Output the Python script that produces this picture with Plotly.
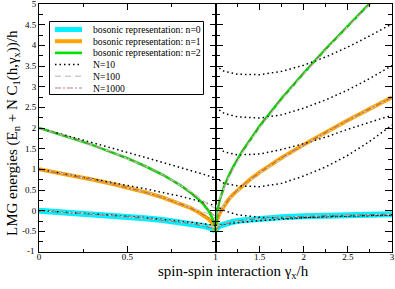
import plotly.graph_objects as go

# ---------------- data ----------------
# left panel: gamma in [0,1]
gam_L = [0, 0.1, 0.2, 0.3, 0.4, 0.5, 0.6, 0.7, 0.8, 0.85, 0.9, 0.93, 0.96, 0.98, 0.99, 1.0]
bos0_L = [0, -0.026, -0.053, -0.082, -0.113, -0.146, -0.184, -0.226, -0.276, -0.306, -0.342, -0.368, -0.4, -0.429, -0.45, -0.5]
bos1_L = [1.0, 0.923, 0.842, 0.755, 0.662, 0.561, 0.449, 0.322, 0.171, 0.081, -0.026, -0.103, -0.2, -0.288, -0.35, -0.5]
bos2_L = [2.0, 1.872, 1.736, 1.592, 1.437, 1.268, 1.081, 0.869, 0.618, 0.468, 0.291, 0.162, 0.0, -0.146, -0.25, -0.5]

n1000_0_L = [0, -0.026, -0.053, -0.082, -0.113, -0.146, -0.184, -0.226, -0.276, -0.306, -0.34, -0.365, -0.395, -0.42, -0.435, -0.46]
n1000_1_L = [1.0, 0.923, 0.842, 0.755, 0.662, 0.561, 0.449, 0.322, 0.172, 0.083, -0.02, -0.09, -0.17, -0.24, -0.28, -0.33]
n1000_2_L = [2.0, 1.872, 1.736, 1.592, 1.437, 1.268, 1.081, 0.869, 0.62, 0.47, 0.30, 0.18, 0.04, -0.06, -0.12, -0.2]

gam100_L = [0, 0.2, 0.4, 0.6, 0.7, 0.8, 0.85, 0.9, 0.95, 1.0]
n100_0_L = [0, -0.053, -0.113, -0.184, -0.226, -0.274, -0.30, -0.33, -0.36, -0.40]
n100_1_L = [1.0, 0.842, 0.662, 0.45, 0.325, 0.18, 0.10, 0.02, -0.06, -0.12]
n100_2_L = [2.0, 1.736, 1.437, 1.082, 0.872, 0.63, 0.49, 0.34, 0.18, 0.05]

gam10_L = [0, 0.2, 0.4, 0.6, 0.8, 0.9, 1.0]
n10_0_L = [0, -0.05, -0.105, -0.17, -0.25, -0.3, -0.36]
n10_1_L = [1.0, 0.85, 0.69, 0.53, 0.35, 0.24, 0.12]
n10_2_L = [2.0, 1.77, 1.53, 1.29, 1.05, 0.92, 0.79]

# right panel: gamma in [1,3]
gam_R = [1.0, 1.01, 1.02, 1.05, 1.1, 1.15, 1.2, 1.3, 1.4, 1.5, 1.75, 2.0, 2.25, 2.5, 2.75, 3.0]
bos0_R = [-0.5, -0.434, -0.41, -0.365, -0.321, -0.291, -0.268, -0.235, -0.21, -0.191, -0.157, -0.134, -0.117, -0.104, -0.094, -0.086]
bos1_R = [-0.5, -0.292, -0.209, -0.045, 0.137, 0.277, 0.395, 0.596, 0.77, 0.927, 1.279, 1.598, 1.898, 2.187, 2.468, 2.743]
bos2_R = [-0.5, -0.15, -0.008, 0.276, 0.596, 0.845, 1.058, 1.427, 1.75, 2.045, 2.715, 3.33, 3.914, 4.478, 5.029, 5.571]

n1000_0_R = [-0.46, -0.44, -0.42, -0.37, -0.322, -0.291, -0.268, -0.235, -0.21, -0.191, -0.157, -0.134, -0.117, -0.104, -0.094, -0.086]
n1000_1_R = [-0.33, -0.28, -0.21, -0.05, 0.135, 0.276, 0.394, 0.596, 0.77, 0.927, 1.279, 1.598, 1.898, 2.187, 2.468, 2.743]
n1000_2_R = [-0.2, -0.12, -0.02, 0.27, 0.594, 0.844, 1.057, 1.427, 1.75, 2.045, 2.715, 3.33, 3.914, 4.478, 5.029, 5.571]

gam100_R = [1.0, 1.05, 1.1, 1.2, 1.3, 1.5, 2.0, 2.5, 3.0]
n100_0_R = [-0.40, -0.36, -0.32, -0.27, -0.24, -0.195, -0.136, -0.105, -0.087]
n100_1_R = [-0.12, 0.0, 0.15, 0.38, 0.58, 0.91, 1.59, 2.18, 2.74]
gam100_2R = [1.0, 1.05, 1.1, 1.15, 1.2, 1.3, 1.4, 1.5, 1.75, 2.0, 2.25, 2.5, 2.78]
n100_2_R = [0.05, 0.3, 0.55, 0.8, 1.0, 1.38, 1.70, 2.0, 2.68, 3.3, 3.88, 4.45, 5.05]

gam10_R = [1.0, 1.1, 1.25, 1.5, 1.75, 2.0, 2.25, 2.5, 2.75, 3.0]
n10_0_R = [-0.36, -0.33, -0.29, -0.24, -0.2, -0.17, -0.14, -0.125, -0.11, -0.1]
n10_1_R = [0.12, 0.0, -0.1, -0.16, -0.18, -0.17, -0.15, -0.13, -0.12, -0.11]
n10_2_R = [0.80, 0.66, 0.60, 0.58, 0.66, 0.84, 1.06, 1.34, 1.68, 2.07]
n10_3_R = [1.58, 1.42, 1.35, 1.37, 1.48, 1.62, 1.78, 1.97, 2.14, 2.31]
n10_4_R = [2.5, 2.35, 2.27, 2.24, 2.32, 2.48, 2.68, 2.92, 3.2, 3.51]
n10_5_R = [3.51, 3.37, 3.30, 3.29, 3.37, 3.52, 3.72, 3.96, 4.23, 4.52]

x_ticks_L = [0, 0.5]
x_labels_L = ["0", "0.5"]
x_ticks_R = [1, 1.5, 2, 2.5, 3]
x_labels_R = ["1", "1.5", "2", "2.5", "3"]
y_min_label = "-1"
y_ticks = [-0.5, 0, 0.5, 1, 1.5, 2, 2.5, 3, 3.5, 4, 4.5, 5]
y_labels = ["-0.5", "0", "0.5", "1", "1.5", "2", "2.5", "3", "3.5", "4", "4.5", "5"]
y_minor = [-0.75, -0.25, 0.25, 0.75, 1.25, 1.75, 2.25, 2.75, 3.25, 3.75, 4.25, 4.75]

legend_labels = ["bosonic representation: n=0", "bosonic representation: n=1",
                 "bosonic representation: n=2", "N=10", "N=100", "N=1000"]

# ---------------- styles ----------------
W, H = 395, 289
ML, MR, MT, MB = 39, 3, 4, 37
FONT = "Liberation Serif, Times New Roman, serif"
C_CYAN = "rgb(0,240,255)"
C_ORANGE = "rgb(255,165,0)"
C_GREEN = "rgb(0,225,0)"
C_N10 = "black"
C_N100 = "rgb(205,205,205)"
C_N1000 = "rgba(160,90,90,0.75)"
styles = [
    dict(color=C_CYAN, width=6),
    dict(color=C_ORANGE, width=4),
    dict(color=C_GREEN, width=2.6),
    dict(color=C_N10, width=1.5, dash="1.5px,3px"),
    dict(color=C_N100, width=1.4, dash="6px,4px"),
    dict(color=C_N1000, width=1.1, dash="6px,2px,2px,2px"),
]

fig = go.Figure()

def add(xs, ys, style, right):
    fig.add_trace(go.Scatter(x=xs, y=ys, mode="lines", line=style, showlegend=False,
                             hoverinfo="skip",
                             xaxis="x2" if right else "x", yaxis="y2" if right else "y"))

# bosonic
for ys, st in [(bos0_L, 0), (bos1_L, 1), (bos2_L, 2)]:
    add(gam_L, ys, styles[st], False)
for ys, st in [(bos0_R, 0), (bos1_R, 1), (bos2_R, 2)]:
    add(gam_R, ys, styles[st], True)
# N=10
for ys in [n10_0_L, n10_1_L, n10_2_L]:
    add(gam10_L, ys, styles[3], False)
for ys in [n10_0_R, n10_1_R, n10_2_R, n10_3_R, n10_4_R, n10_5_R]:
    add(gam10_R, ys, styles[3], True)
# N=100
for ys in [n100_0_L, n100_1_L, n100_2_L]:
    add(gam100_L, ys, styles[4], False)
add(gam100_R, n100_0_R, styles[4], True)
add(gam100_R, n100_1_R, styles[4], True)
add(gam100_2R, n100_2_R, styles[4], True)
# N=1000
for ys in [n1000_0_L, n1000_1_L, n1000_2_L]:
    add(gam_L, ys, styles[5], False)
for ys in [n1000_0_R, n1000_1_R, n1000_2_R]:
    add(gam_R, ys, styles[5], True)

tickfont = dict(family=FONT, size=9, color="black")
common = dict(showline=True, linecolor="black", linewidth=1, mirror="allticks",
              ticks="inside", tickcolor="black", tickwidth=1, showgrid=False,
              zeroline=False, tickfont=tickfont, fixedrange=True, automargin=False,
              ticklabeloverflow="allow")

PW = W - ML - MR
PH = H - MT - MB
def px_x(p):
    return (p - ML) / PW
def px_y(p):
    return (H - MB - p) / PH

fig.update_layout(
    width=W, height=H, margin=dict(l=ML, r=MR, t=MT, b=MB),
    paper_bgcolor="white", plot_bgcolor="white", showlegend=False,
    xaxis=dict(domain=[0, 0.5], range=[0, 1], anchor="y", tickmode="array",
               tickvals=x_ticks_L, ticktext=x_labels_L, ticklen=6, ticklabelstandoff=-4,
               minor=dict(tickvals=[0.25, 0.75], ticks="inside", ticklen=3, tickcolor="black"),
               **common),
    xaxis2=dict(domain=[0.5, 1], range=[1, 3], anchor="y2", tickmode="array",
                tickvals=x_ticks_R, ticktext=x_labels_R, ticklen=6, ticklabelstandoff=-4,
                minor=dict(tickvals=[1.25, 1.75, 2.25, 2.75], ticks="inside", ticklen=3, tickcolor="black"),
                **common),
    yaxis=dict(domain=[0, 1], range=[-1, 5], anchor="x", tickmode="array",
               tickvals=y_ticks, ticktext=y_labels, ticklen=6,
               minor=dict(tickvals=y_minor, ticks="inside", ticklen=4, tickcolor="black"),
               **common),
    yaxis2=dict(domain=[0, 1], range=[-1, 5], anchor="x2", tickmode="array",
                tickvals=y_ticks, showticklabels=False, ticklen=7,
                minor=dict(tickvals=y_minor, ticks="inside", ticklen=4, tickcolor="black"),
                **common),
)

# label of the lowest y tick, placed in paper coordinates at the axis corner
fig.add_annotation(text=y_min_label, xref="paper", yref="paper", x=px_x(36.5), y=px_y(250.5),
                   xanchor="right", yanchor="middle", showarrow=False,
                   font=dict(family=FONT, size=9, color="black"))

# axis titles
fig.add_annotation(text="spin-spin interaction γ<sub>x</sub>/h", xref="paper", yref="paper",
                   x=px_x(233.5), y=px_y(271.5), xanchor="center", yanchor="middle",
                   showarrow=False, font=dict(family=FONT, size=15, color="black"))
fig.add_annotation(text="LMG energies (E<sub>n</sub> + N C<sub>1</sub>(h,γ<sub>x</sub>))/h",
                   xref="paper", yref="paper", x=px_x(12.5), y=px_y(133.5), textangle=-90,
                   xanchor="center", yanchor="middle", showarrow=False,
                   font=dict(family=FONT, size=15, color="black"))

# legend box drawn by hand (compact rows, like the reference)
fig.add_shape(type="rect", xref="paper", yref="paper",
              x0=px_x(49.5), x1=px_x(203.5), y0=px_y(94.5), y1=px_y(21.5),
              line=dict(color="black", width=1), fillcolor="white", layer="above")
for i, (lab, st) in enumerate(zip(legend_labels, styles)):
    yy = px_y(29.5 + 11.7 * i)
    ln = dict(st)
    if i == 0:
        ln["width"] = 5
    fig.add_shape(type="line", xref="paper", yref="paper", x0=px_x(55), x1=px_x(82),
                  y0=yy, y1=yy, line=ln, layer="above")
    fig.add_annotation(text=lab, xref="paper", yref="paper", x=px_x(90.5), y=yy,
                       xanchor="left", yanchor="middle", showarrow=False,
                       font=dict(family=FONT, size=9.7, color="black"))

fig.write_html("out.html", config={"displayModeBar": False},
               post_script="document.body.style.margin='0px';document.body.style.overflow='hidden';")
